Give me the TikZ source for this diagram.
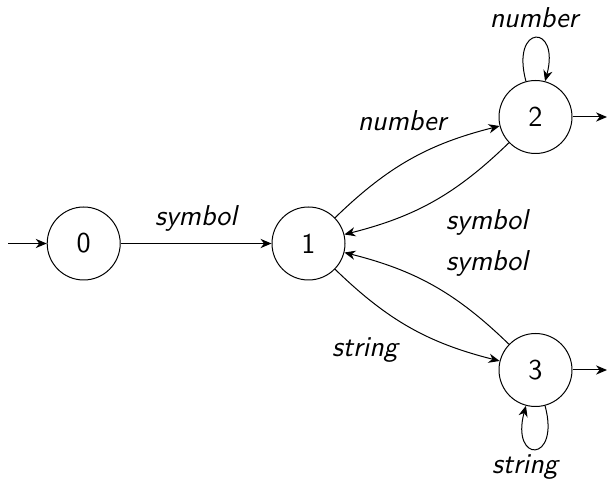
\documentclass[tikz,border=0pt]{standalone}
\usepackage{fontspec}
\usetikzlibrary{arrows.meta}
\begin{document}
\begin{tikzpicture}[x=0.4pt,y=-0.4pt,
  every node/.style={font=\sffamily\fontsize{11.5}{13}\selectfont},
  state/.style={circle,draw,thin,minimum size=29.2pt,inner sep=0pt},
  lbl/.style={font=\sffamily\itshape\fontsize{11.5}{13}\selectfont,inner sep=0pt},
  tr/.style={thin,-{Stealth[length=4.4pt,width=3.7pt]}},
  ]
\useasboundingbox (0,0) rectangle (608,485);
\node[state] (s0) at (83.7,243.5) {0};
\node[state] (s1) at (308.5,243.5) {1};
\node[state] (s2) at (535.5,117) {2};
\node[state] (s3) at (535.5,370) {3};
\coordinate (in) at (8,243.5);
\coordinate (o2) at (607,117);
\coordinate (o3) at (607,370);
\draw[tr] (in) -- (s0);
\draw[tr] (s2) -- (o2);
\draw[tr] (s3) -- (o3);
\draw[tr] (s0) -- (s1);
\draw[tr] (s1) to[bend left=15] (s2);
\draw[tr] (s2) to[bend left=15] (s1);
\draw[tr] (s1) to[bend right=15] (s3);
\draw[tr] (s3) to[bend right=15] (s1);
\draw[tr] (s2) to[loop above] (s2);
\draw[tr] (s3) to[loop below] (s3);
\node[lbl] (l01) at (196,218) {symbol};
\node[lbl] (l12) at (402,121) {number};
\node[lbl] (l21) at (487,222) {symbol};
\node[lbl] (l31) at (487,263) {symbol};
\node[lbl] (l13) at (365,350) {string};
\node[lbl] (l22) at (534,18) {number};
\node[lbl] (l33) at (525,467) {string};
\end{tikzpicture}
\end{document}
